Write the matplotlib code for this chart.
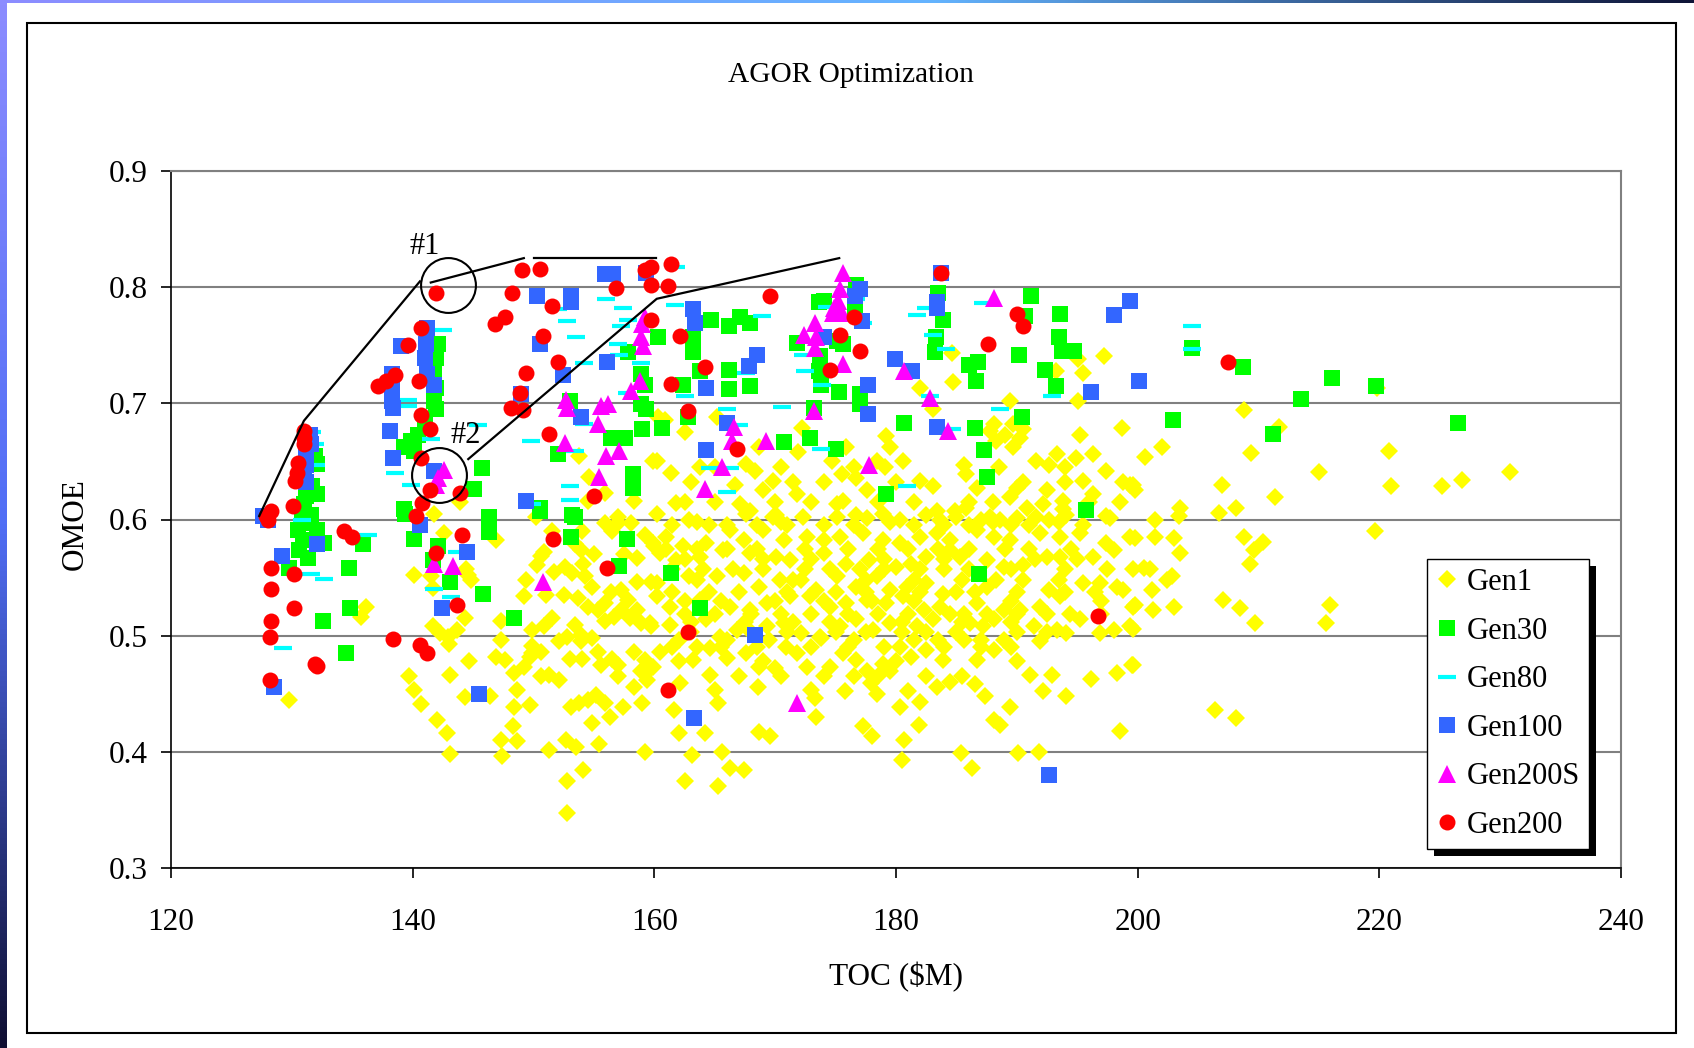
import matplotlib.pyplot as plt
from matplotlib.patches import Rectangle
from matplotlib.transforms import IdentityTransform
import numpy as np

plt.rcParams['font.family'] = ['Liberation Serif', 'DejaVu Serif']

# (TOC $M, OMOE) pairs for each generation
gen1 = [
    (129.8, 0.445), (136.1, 0.525), (135.7, 0.516), (141.8, 0.605), (142.6, 0.588), (140.1, 0.552),
    (141.5, 0.551), (141.7, 0.541), (144.6, 0.552), (144.8, 0.548), (144.4, 0.557), (146.9, 0.582),
    (141.7, 0.508), (142.3, 0.502), (142.9, 0.499), (143.0, 0.493), (143.7, 0.505), (144.3, 0.515),
    (144.7, 0.478), (143.1, 0.466), (139.7, 0.465), (140.1, 0.453), (140.7, 0.441), (142.0, 0.427),
    (142.8, 0.416), (143.1, 0.398), (144.3, 0.447), (146.4, 0.448), (147.3, 0.513), (147.3, 0.496),
    (146.9, 0.482), (147.6, 0.479), (148.4, 0.468), (148.6, 0.453), (148.4, 0.439), (148.3, 0.422),
    (147.3, 0.410), (148.6, 0.409), (147.4, 0.396), (149.4, 0.548), (149.2, 0.534), (149.9, 0.505),
    (150.9, 0.508), (149.9, 0.491), (149.7, 0.482), (149.2, 0.473), (149.7, 0.440), (150.6, 0.569),
    (150.3, 0.561), (151.7, 0.555), (152.6, 0.559), (153.2, 0.554), (154.1, 0.562), (154.3, 0.551),
    (154.8, 0.542), (153.7, 0.532), (154.5, 0.525), (155.3, 0.522), (155.9, 0.513), (156.7, 0.516),
    (157.2, 0.522), (153.4, 0.509), (153.9, 0.501), (154.8, 0.498), (155.9, 0.528), (157.8, 0.531),
    (158.6, 0.522), (152.1, 0.495), (152.8, 0.499), (153.9, 0.495), (150.6, 0.465), (151.3, 0.466),
    (152.1, 0.462), (149.9, 0.485), (150.6, 0.486), (155.3, 0.486), (155.6, 0.475), (157.0, 0.475),
    (157.0, 0.465), (158.3, 0.486), (159.2, 0.479), (158.9, 0.470), (159.4, 0.462), (158.3, 0.456),
    (153.1, 0.439), (153.8, 0.442), (154.5, 0.445), (155.2, 0.449), (155.9, 0.442), (156.3, 0.430),
    (157.4, 0.439), (159.0, 0.442), (154.8, 0.425), (155.4, 0.407), (151.3, 0.402), (152.7, 0.410),
    (153.5, 0.404), (154.1, 0.384), (152.8, 0.375), (152.8, 0.347), (159.2, 0.400), (155.9, 0.597),
    (157.0, 0.597), (158.1, 0.597), (159.2, 0.587), (160.0, 0.577), (158.6, 0.567), (159.7, 0.546),
    (158.6, 0.546), (157.2, 0.539), (156.4, 0.538), (158.9, 0.511), (159.7, 0.508), (159.7, 0.472),
    (150.2, 0.602), (150.9, 0.572), (153.4, 0.579), (153.9, 0.574),
    (151.5, 0.590), (154.0, 0.590), (156.5, 0.590), (155.0, 0.570), (157.5, 0.570), (151.0, 0.535),
    (152.5, 0.535), (151.5, 0.515), (158.0, 0.515), (153.0, 0.480), (154.0, 0.480), (156.5, 0.480),
    (160.2, 0.605), (162.9, 0.600), (166.0, 0.595), (167.6, 0.605), (169.8, 0.602), (172.3, 0.602),
    (175.1, 0.602), (177.6, 0.601), (178.9, 0.605), (180.3, 0.600), (182.5, 0.604), (183.6, 0.600),
    (185.0, 0.602), (187.0, 0.600), (188.6, 0.600), (190.0, 0.601), (191.6, 0.602), (192.7, 0.600),
    (194.1, 0.604), (197.7, 0.601),
    (163.5, 0.598), (170.5, 0.598), (179.5, 0.598), (188.0, 0.598), (193.5, 0.598),
    (161.5, 0.595), (164.5, 0.595), (168.5, 0.595), (171.0, 0.595), (174.0, 0.595), (176.5, 0.595),
    (181.5, 0.595), (184.0, 0.595), (186.0, 0.595), (189.5, 0.595), (191.0, 0.595), (195.5, 0.595),
    (159.9, 0.580), (161.0, 0.585), (162.4, 0.577), (164.3, 0.580), (166.3, 0.591), (167.4, 0.582),
    (169.0, 0.591), (170.7, 0.582), (172.6, 0.585), (174.0, 0.582), (175.4, 0.585), (177.3, 0.588),
    (178.9, 0.582), (180.3, 0.580), (182.0, 0.585), (183.4, 0.588), (184.5, 0.582), (186.7, 0.591),
    (188.1, 0.585), (189.4, 0.582), (191.9, 0.588), (193.6, 0.585), (195.2, 0.588), (197.4, 0.580),
    (199.4, 0.585),
    (161.0, 0.575), (163.5, 0.575), (166.0, 0.575), (168.5, 0.575), (172.5, 0.575), (176.0, 0.575),
    (178.5, 0.575), (181.0, 0.575), (183.5, 0.575), (186.0, 0.575), (189.0, 0.575), (191.0, 0.575),
    (194.5, 0.575),
    (160.5, 0.571), (161.8, 0.565), (163.8, 0.568), (165.7, 0.574), (167.9, 0.571), (170.1, 0.568),
    (171.2, 0.565), (174.0, 0.571), (175.9, 0.562), (177.8, 0.565), (180.0, 0.559), (181.2, 0.562),
    (182.5, 0.568), (184.5, 0.574), (185.3, 0.568), (187.5, 0.565), (188.9, 0.559), (190.5, 0.561),
    (192.5, 0.568), (193.6, 0.568), (196.3, 0.568), (198.0, 0.574), (199.6, 0.557),
    (162.5, 0.566), (169.0, 0.566), (173.0, 0.566), (179.0, 0.566), (184.0, 0.566), (191.5, 0.566),
    (195.0, 0.566),
    (161.5, 0.557), (164.0, 0.557), (166.5, 0.557), (169.0, 0.557), (172.5, 0.557), (174.5, 0.557),
    (177.0, 0.557), (179.0, 0.557), (182.0, 0.557), (184.0, 0.557), (186.0, 0.557), (189.5, 0.557),
    (194.0, 0.557), (197.5, 0.557),
    (163.5, 0.548), (171.5, 0.548), (177.5, 0.548), (181.5, 0.548), (185.5, 0.548), (190.5, 0.548),
    (193.5, 0.548),
    (160.2, 0.545), (162.9, 0.551), (165.2, 0.551), (167.4, 0.554), (168.7, 0.542), (170.4, 0.548),
    (172.1, 0.548), (173.4, 0.539), (175.1, 0.551), (176.7, 0.542), (178.4, 0.551), (179.5, 0.539),
    (180.9, 0.542), (182.5, 0.545), (183.9, 0.536), (187.5, 0.542), (188.3, 0.548), (192.7, 0.539),
    (195.5, 0.545), (196.9, 0.545), (198.8, 0.539),
    (161.5, 0.538), (164.5, 0.538), (167.0, 0.538), (171.0, 0.538), (175.0, 0.538), (177.5, 0.538),
    (182.0, 0.538), (185.0, 0.538), (186.5, 0.538), (190.0, 0.538), (194.0, 0.538), (196.5, 0.538),
    (160.2, 0.534), (161.3, 0.525), (163.8, 0.531), (166.3, 0.525), (167.9, 0.522), (169.3, 0.528),
    (171.2, 0.534), (172.9, 0.534), (174.5, 0.525), (175.9, 0.528), (177.6, 0.531), (179.2, 0.528),
    (180.6, 0.534), (182.3, 0.522), (183.6, 0.525), (185.6, 0.519), (186.7, 0.528), (188.9, 0.522),
    (190.3, 0.522), (191.9, 0.525), (193.6, 0.534), (194.4, 0.519), (195.2, 0.514), (198.3, 0.542),
    (199.6, 0.525),
    (162.5, 0.530), (165.5, 0.530), (170.0, 0.530), (174.0, 0.530), (178.0, 0.530), (181.5, 0.530),
    (189.5, 0.530), (197.0, 0.530),
    (162.5, 0.519), (165.0, 0.519), (168.0, 0.519), (170.5, 0.519), (173.0, 0.519), (176.0, 0.519),
    (178.5, 0.519), (181.0, 0.519), (184.5, 0.519), (187.5, 0.519), (190.0, 0.519), (192.5, 0.519),
    (197.0, 0.519),
    (163.0, 0.512), (167.5, 0.512), (171.5, 0.512), (174.5, 0.512), (180.5, 0.512), (185.5, 0.512),
    (189.5, 0.512),
    (159.6, 0.511), (161.3, 0.509), (164.3, 0.514), (165.4, 0.499), (166.8, 0.505), (169.3, 0.508),
    (170.7, 0.511), (172.1, 0.502), (173.7, 0.499), (175.4, 0.508), (176.7, 0.514), (178.1, 0.505),
    (179.5, 0.511), (181.7, 0.508), (183.1, 0.514), (186.1, 0.511), (187.2, 0.508), (188.1, 0.514),
    (188.9, 0.496), (191.4, 0.508), (193.3, 0.505), (194.1, 0.502), (196.9, 0.502), (198.0, 0.505),
    (199.4, 0.508),
    (163.0, 0.503), (168.0, 0.503), (171.0, 0.503), (175.0, 0.503), (177.5, 0.503), (180.5, 0.503),
    (182.5, 0.503), (185.0, 0.503), (190.0, 0.503), (192.5, 0.503),
    (162.0, 0.496), (166.0, 0.496), (169.5, 0.496), (176.5, 0.496), (181.5, 0.496), (183.5, 0.496),
    (187.0, 0.496),
    (161.5, 0.490), (163.5, 0.490), (165.5, 0.490), (168.5, 0.490), (173.0, 0.490), (176.0, 0.490),
    (179.0, 0.490), (184.0, 0.490), (187.0, 0.490), (189.5, 0.490),
    (160.5, 0.486), (163.2, 0.479), (164.6, 0.489), (166.0, 0.481), (167.6, 0.485), (168.7, 0.473),
    (170.0, 0.472), (170.9, 0.490), (171.8, 0.485), (172.6, 0.473), (173.8, 0.498), (174.5, 0.473),
    (175.6, 0.485), (176.7, 0.479), (177.6, 0.470), (178.9, 0.476), (180.3, 0.490), (181.2, 0.482),
    (182.5, 0.488), (183.9, 0.479), (185.6, 0.496), (186.7, 0.479), (188.1, 0.488), (191.9, 0.495),
    (191.1, 0.466), (192.9, 0.466), (196.1, 0.463), (198.3, 0.468), (199.5, 0.475),
    (162.0, 0.478), (169.0, 0.478), (180.0, 0.478), (190.0, 0.478),
    (167.0, 0.465), (170.5, 0.465), (174.0, 0.465), (178.5, 0.465), (182.5, 0.465), (185.5, 0.465),
    (159.9, 0.473), (162.1, 0.459), (164.6, 0.466), (165.0, 0.453), (165.3, 0.442), (168.6, 0.456),
    (173.0, 0.453), (173.3, 0.446), (173.4, 0.430), (175.8, 0.452), (176.5, 0.465), (177.9, 0.459),
    (178.4, 0.450), (179.5, 0.470), (180.3, 0.439), (181.0, 0.452), (182.0, 0.443), (183.4, 0.456),
    (184.5, 0.460), (186.5, 0.458), (187.4, 0.448), (189.4, 0.439), (192.2, 0.452), (194.1, 0.448),
    (161.6, 0.436), (162.0, 0.416), (164.2, 0.416), (168.7, 0.417), (169.6, 0.414), (177.3, 0.422),
    (178.0, 0.414), (180.7, 0.410), (181.9, 0.423), (188.1, 0.427), (188.6, 0.423), (198.5, 0.418),
    (163.1, 0.397), (165.6, 0.400), (166.3, 0.386), (167.4, 0.384), (162.5, 0.375), (165.3, 0.371),
    (180.5, 0.393), (185.4, 0.399), (186.3, 0.386), (190.1, 0.399), (191.8, 0.400),
    (162.5, 0.615), (165.0, 0.615), (170.0, 0.615), (173.0, 0.615), (178.5, 0.615), (181.5, 0.615),
    (186.0, 0.615), (188.0, 0.615), (196.0, 0.615), (198.5, 0.615), (163.0, 0.632), (171.5, 0.632),
    (174.0, 0.632), (180.0, 0.632), (190.5, 0.632), (194.0, 0.632), (165.0, 0.645), (170.5, 0.645),
    (176.5, 0.645), (188.5, 0.645), (194.0, 0.645),
    (184.6, 0.743), (184.7, 0.718), (182.0, 0.713), (183.1, 0.695), (195.1, 0.738), (195.5, 0.726),
    (197.2, 0.741), (193.2, 0.728), (195.1, 0.702), (189.4, 0.702), (188.1, 0.682), (189.0, 0.673),
    (189.7, 0.682), (190.5, 0.678), (195.2, 0.673), (198.7, 0.679), (175.9, 0.662), (171.9, 0.658),
    (172.2, 0.679), (174.7, 0.650), (175.5, 0.639), (179.2, 0.672), (179.5, 0.662), (180.6, 0.650),
    (178.4, 0.650), (179.1, 0.645), (176.7, 0.636), (177.6, 0.625), (182.0, 0.633), (183.1, 0.629),
    (185.6, 0.647), (185.8, 0.639), (186.7, 0.627), (187.8, 0.676), (188.3, 0.668), (189.7, 0.662),
    (190.3, 0.670), (191.6, 0.650), (192.7, 0.647), (193.3, 0.656), (194.9, 0.653), (196.3, 0.656),
    (197.4, 0.642), (198.8, 0.632), (199.4, 0.630), (190.0, 0.627), (189.4, 0.619), (192.5, 0.625),
    (193.8, 0.616), (195.5, 0.633), (196.3, 0.622), (160.2, 0.650), (161.4, 0.640), (161.8, 0.614),
    (162.5, 0.675), (160.9, 0.686), (165.2, 0.688), (163.8, 0.645), (166.7, 0.630), (167.6, 0.648),
    (168.3, 0.642), (167.1, 0.613), (167.9, 0.607), (169.0, 0.625), (169.8, 0.633), (171.8, 0.622),
    (175.1, 0.613), (175.6, 0.616), (168.7, 0.662), (184.9, 0.607), (185.8, 0.610), (190.8, 0.610),
    (192.2, 0.613), (187.8, 0.602), (197.4, 0.603), (170.1, 0.604), (176.7, 0.604), (183.4, 0.607),
    (193.8, 0.609),
    (208.8, 0.694), (211.7, 0.680), (202.0, 0.662), (200.6, 0.654), (209.4, 0.657), (220.8, 0.659),
    (215.0, 0.641), (230.8, 0.641), (199.6, 0.630), (199.8, 0.625), (207.0, 0.630), (211.4, 0.619),
    (221.0, 0.629), (225.2, 0.629), (226.8, 0.634), (203.5, 0.610), (203.4, 0.603), (206.7, 0.606),
    (208.1, 0.610), (201.4, 0.600), (219.8, 0.713),
    (199.8, 0.584), (201.4, 0.585), (203.0, 0.584), (203.5, 0.571), (208.8, 0.585), (209.6, 0.574),
    (210.4, 0.581), (209.3, 0.562), (219.6, 0.590), (200.5, 0.558), (201.0, 0.557), (202.4, 0.548),
    (202.8, 0.551), (201.2, 0.539), (199.8, 0.526), (201.3, 0.522), (203.0, 0.525), (207.1, 0.531),
    (208.5, 0.524), (209.7, 0.511), (215.9, 0.526), (215.6, 0.511), (199.6, 0.506), (199.6, 0.475),
    (206.4, 0.436), (208.1, 0.429),
    (153.8, 0.655), (154.5, 0.616), (155.9, 0.623), (157.0, 0.602), (158.3, 0.616), (159.9, 0.650),
    (160.3, 0.688), (143.9, 0.615), (154.6, 0.637),
]

gen30 = [
    (131.9, 0.655), (132.1, 0.648), (131.7, 0.629), (132.1, 0.622), (131.2, 0.620), (131.0, 0.613),
    (131.6, 0.604), (142.1, 0.751), (141.9, 0.739), (141.8, 0.728), (141.9, 0.713), (141.8, 0.702),
    (141.9, 0.695), (141.0, 0.682), (140.4, 0.673), (139.9, 0.668), (139.3, 0.662), (140.1, 0.659),
    (145.7, 0.644), (145.1, 0.626), (139.3, 0.609), (146.3, 0.602), (150.5, 0.610), (153.2, 0.604),
    (153.0, 0.702), (157.8, 0.744), (158.9, 0.725), (159.2, 0.716), (158.9, 0.699), (159.3, 0.695),
    (156.4, 0.670), (157.6, 0.670), (159.0, 0.678), (160.6, 0.679), (158.2, 0.639), (158.2, 0.627),
    (152.0, 0.656),
    (160.3, 0.757), (163.2, 0.757), (163.2, 0.744), (163.8, 0.728), (164.7, 0.772), (166.2, 0.767),
    (167.1, 0.774), (167.9, 0.769), (166.2, 0.729), (166.2, 0.712), (167.9, 0.715), (162.4, 0.716),
    (162.8, 0.688), (170.7, 0.667), (172.9, 0.670), (175.0, 0.661), (173.2, 0.696), (173.6, 0.787),
    (174.0, 0.788), (176.7, 0.802), (176.6, 0.781), (171.8, 0.752), (175.1, 0.754), (175.6, 0.751),
    (173.7, 0.741), (173.6, 0.728), (173.8, 0.716), (175.3, 0.710), (177.0, 0.708), (177.0, 0.699),
    (183.5, 0.795), (183.9, 0.772), (183.3, 0.757), (183.2, 0.744), (186.0, 0.733), (186.8, 0.736),
    (186.6, 0.719), (191.2, 0.792), (193.6, 0.777), (190.7, 0.775), (193.5, 0.757), (193.7, 0.745),
    (194.7, 0.745), (190.2, 0.742), (192.3, 0.729), (193.2, 0.715), (180.7, 0.683), (186.5, 0.679),
    (190.4, 0.688), (187.3, 0.660), (187.5, 0.637), (179.2, 0.622), (195.7, 0.608),
    (204.5, 0.748), (208.7, 0.731), (216.1, 0.722), (219.7, 0.715), (213.5, 0.704), (202.9, 0.686),
    (211.2, 0.674), (226.5, 0.683),
    (130.8, 0.600), (131.4, 0.597), (130.5, 0.591), (130.9, 0.582), (130.6, 0.574), (131.3, 0.567),
    (132.1, 0.591), (132.7, 0.580), (129.8, 0.558), (135.9, 0.579), (134.7, 0.558), (134.8, 0.524),
    (132.6, 0.513), (134.5, 0.485), (139.4, 0.605), (140.1, 0.583), (142.1, 0.577), (141.7, 0.565),
    (143.1, 0.546), (146.3, 0.595), (146.3, 0.589), (145.8, 0.536), (148.4, 0.515), (150.5, 0.607),
    (153.4, 0.602), (153.1, 0.585), (157.7, 0.583), (157.1, 0.560),
    (161.4, 0.554), (163.8, 0.524), (186.9, 0.553),
]

gen80 = [
    (131.7, 0.675), (131.9, 0.665), (132.0, 0.647), (130.8, 0.600), (142.5, 0.763), (139.6, 0.703),
    (139.6, 0.698), (141.5, 0.669), (138.5, 0.640), (139.9, 0.630), (145.4, 0.681), (152.8, 0.771),
    (153.5, 0.757), (152.0, 0.781), (156.0, 0.790), (157.4, 0.782), (157.8, 0.772), (157.2, 0.767),
    (157.0, 0.751), (157.1, 0.742), (154.2, 0.735), (158.9, 0.735), (157.7, 0.709), (153.4, 0.659),
    (149.8, 0.668), (153.0, 0.629), (153.0, 0.617), (149.9, 0.613), (154.2, 0.682),
    (161.8, 0.817), (161.7, 0.785), (168.9, 0.775), (174.3, 0.783), (176.7, 0.790), (177.3, 0.769),
    (181.7, 0.776), (182.5, 0.782), (183.1, 0.759), (184.1, 0.747), (187.2, 0.786), (172.3, 0.742),
    (167.6, 0.726), (172.5, 0.728), (173.9, 0.716), (162.5, 0.706), (166.0, 0.695), (170.6, 0.697),
    (167.0, 0.681), (182.8, 0.706), (184.6, 0.678), (188.6, 0.695), (192.9, 0.706), (173.8, 0.661),
    (164.6, 0.644), (166.3, 0.644), (166.0, 0.624), (180.9, 0.629),
    (204.5, 0.767), (204.5, 0.747),
    (136.3, 0.587), (131.6, 0.553), (132.7, 0.549), (129.3, 0.489), (141.8, 0.540), (143.2, 0.533),
    (143.7, 0.572),
]

gen100 = [
    (131.5, 0.673), (131.6, 0.665), (131.2, 0.656), (131.2, 0.647), (131.0, 0.639), (131.2, 0.632),
    (127.6, 0.603), (139.0, 0.749), (141.2, 0.765), (141.1, 0.751), (141.0, 0.739), (138.3, 0.725),
    (138.3, 0.713), (138.3, 0.702), (138.4, 0.696), (141.2, 0.725), (141.8, 0.716), (138.1, 0.676),
    (138.4, 0.653), (141.8, 0.642), (149.4, 0.616), (150.3, 0.792), (153.1, 0.792), (153.1, 0.787),
    (155.9, 0.811), (156.6, 0.811), (159.3, 0.812), (150.5, 0.751), (152.4, 0.724), (156.1, 0.736),
    (149.0, 0.708), (153.9, 0.688),
    (163.2, 0.781), (163.4, 0.769), (177.0, 0.798), (176.6, 0.792), (177.2, 0.771), (168.5, 0.742),
    (167.8, 0.732), (174.0, 0.757), (164.3, 0.713), (166.0, 0.683), (164.3, 0.660), (177.7, 0.716),
    (177.7, 0.691), (179.9, 0.738), (181.3, 0.728), (183.4, 0.787), (183.4, 0.782), (183.7, 0.812),
    (183.4, 0.680), (196.1, 0.710), (198.0, 0.776), (199.4, 0.788), (200.1, 0.719),
    (128.0, 0.600), (132.1, 0.579), (129.2, 0.569), (128.5, 0.456), (140.6, 0.595), (144.5, 0.572),
    (142.4, 0.524), (145.5, 0.450), (168.3, 0.501), (163.3, 0.429), (192.7, 0.380),
]

gen200s = [
    (142.6, 0.643), (142.1, 0.636), (141.9, 0.630), (152.7, 0.703), (152.8, 0.696), (155.6, 0.698),
    (156.2, 0.699), (155.3, 0.682), (152.6, 0.666), (156.0, 0.655), (157.1, 0.659), (155.4, 0.637),
    (158.8, 0.719), (158.1, 0.711), (159.0, 0.768), (158.9, 0.757), (159.1, 0.749), (159.2, 0.774),
    (175.6, 0.812), (175.4, 0.798), (175.2, 0.788), (174.9, 0.782), (174.8, 0.778), (175.5, 0.778),
    (173.3, 0.769), (172.4, 0.759), (173.4, 0.757), (173.3, 0.748), (175.6, 0.734), (180.7, 0.728),
    (182.8, 0.705), (184.3, 0.676), (173.2, 0.693), (188.1, 0.791), (166.6, 0.680), (166.4, 0.668),
    (169.2, 0.668), (165.6, 0.645), (164.2, 0.626), (177.8, 0.647),
    (141.8, 0.562), (143.3, 0.560), (150.8, 0.546), (171.8, 0.442),
]

gen200 = [
    (141.9, 0.795), (149.05, 0.815), (150.5, 0.816), (148.2, 0.795), (151.5, 0.784), (147.6, 0.774),
    (146.8, 0.768), (156.8, 0.799), (159.2, 0.815), (159.7, 0.817), (159.7, 0.802), (159.7, 0.772),
    (150.8, 0.758), (152.0, 0.736), (149.4, 0.726), (148.9, 0.709), (148.1, 0.696), (149.1, 0.694),
    (151.3, 0.674), (140.7, 0.765), (139.6, 0.750), (138.5, 0.724), (137.8, 0.719), (137.1, 0.715),
    (140.5, 0.719), (140.7, 0.690), (141.4, 0.678), (140.7, 0.653), (141.4, 0.625), (143.9, 0.623),
    (140.8, 0.614), (140.3, 0.603), (155.0, 0.620),
    (131.0, 0.676), (131.0, 0.670), (131.0, 0.665), (130.5, 0.649), (130.4, 0.640), (130.3, 0.633),
    (130.1, 0.612), (128.3, 0.607), (127.9, 0.603), (128.0, 0.600), (134.3, 0.590), (135.0, 0.585),
    (128.3, 0.558), (130.2, 0.553), (128.3, 0.540), (130.2, 0.524), (128.3, 0.513), (128.2, 0.499),
    (131.9, 0.476), (132.1, 0.474), (128.2, 0.462), (138.4, 0.497), (140.6, 0.492), (141.2, 0.485),
    (144.1, 0.587), (141.9, 0.571), (143.7, 0.526), (151.6, 0.583), (156.1, 0.558),
    (162.8, 0.503), (161.1, 0.453), (196.7, 0.517),
    (161.4, 0.820), (161.1, 0.801), (169.6, 0.792), (162.1, 0.758), (164.2, 0.731), (161.4, 0.717),
    (162.8, 0.693), (166.8, 0.661), (176.5, 0.774), (175.4, 0.759), (177.0, 0.745), (174.5, 0.729),
    (183.7, 0.812), (190.0, 0.777), (190.5, 0.767), (187.6, 0.751), (207.5, 0.736),
]

x_ticks = [120, 140, 160, 180, 200, 220, 240]
y_ticks = [0.3, 0.4, 0.5, 0.6, 0.7, 0.8, 0.9]

# hand-drawn frontier sketch and the two marked designs
frontier_lines = [
    [(127.3, 0.603), (131.0, 0.685), (140.6, 0.805)],
    [(141.5, 0.804), (149.2, 0.825)],
    [(150.0, 0.825), (160.1, 0.825)],
    [(144.6, 0.652), (160.2, 0.790), (175.3, 0.825)],
]
marked = [('#1', (142.9, 0.802), (141.0, 0.835)), ('#2', (142.2, 0.638), (144.4, 0.672))]

series = [
    ('Gen1', gen1, dict(marker='D', color='#FFFF00', ms=9.3, mew=0)),
    ('Gen30', gen30, dict(marker='s', color='#00FF00', ms=12, mew=0)),
    ('Gen80', gen80, dict(marker='_', color='#00FFFF', ms=13, mew=3)),
    ('Gen100', gen100, dict(marker='s', color='#3366FF', ms=12, mew=0)),
    ('Gen200S', gen200s, dict(marker='^', color='#FF00FF', ms=12.5, mew=0)),
    ('Gen200', gen200, dict(marker='o', color='#FF0000', ms=11.5, mew=0)),
]

W, H = 1694, 1048
fig = plt.figure(figsize=(W / 100, H / 100), dpi=100)

# slide edge gradients
left_strip = fig.add_axes([0, 0, 6 / W, 1])
lg = np.array([[140, 140, 255], [80, 110, 245], [15, 15, 50]]) / 255
t = np.linspace(0, 1, 200)
col = np.stack([np.interp(t, [0, 0.5, 1], lg[:, i]) for i in range(3)], axis=1)
left_strip.imshow(col[:, None, :], aspect='auto')
left_strip.axis('off')
top_strip = fig.add_axes([0, 1 - 3 / H, 1, 3 / H])
tg = np.array([[140, 140, 255], [100, 180, 255], [15, 20, 55]]) / 255
row = np.stack([np.interp(t, [0, 0.55, 1], tg[:, i]) for i in range(3)], axis=1)
top_strip.imshow(row[None, :, :], aspect='auto')
top_strip.axis('off')

fig.add_artist(Rectangle((26.7 / W, 1 - 1033 / H), (1675.7 - 26.7) / W, (1033 - 22.7) / H,
                         transform=fig.transFigure, fill=False, edgecolor='black', lw=1.5))

ax = fig.add_axes([171 / W, 1 - 868 / H, 1450 / W, 697 / H])

for name, pts, st in series:
    xs, ys = zip(*pts)
    ax.plot(xs, ys, linestyle='none', label=name, marker=st['marker'], ms=st['ms'],
            mfc=st['color'], mec=st['color'], mew=st['mew'])

for seg in frontier_lines:
    xs, ys = zip(*seg)
    ax.plot(xs, ys, color='black', lw=1.6, zorder=6)
for label, (cx, cy), (tx, ty) in marked:
    ax.plot([cx], [cy], marker='o', ms=39.5, mfc='none', mec='black', mew=1.5, ls='none', zorder=6)
    ax.text(tx, ty, label, fontsize=22, ha='center', va='center', zorder=6)

ax.set_xlim(120, 240)
ax.set_ylim(0.3, 0.9)
ax.set_xticks(x_ticks)
ax.set_xticklabels([str(v) for v in x_ticks])
ax.set_yticks(y_ticks)
ax.set_yticklabels([f'{v:.1f}' for v in y_ticks])
ax.set_axisbelow(True)
ax.yaxis.grid(True, color='#808080', lw=1.5)
for s in ['left', 'bottom']:
    ax.spines[s].set_color('black')
    ax.spines[s].set_linewidth(1.2)
for s in ['top', 'right']:
    ax.spines[s].set_color('#808080')
    ax.spines[s].set_linewidth(1.5)
ax.tick_params(direction='out', length=7, width=1.2, labelsize=22.5)
ax.tick_params(axis='x', pad=22)
ax.tick_params(axis='y', pad=10)

fig.text(851 / W, 1 - 75 / H, 'AGOR Optimization', fontsize=21.2, ha='center', va='center')
fig.text(895.6 / W, 1 - 976.7 / H, r'TOC (\$M)', fontsize=22.5, ha='center', va='center')
fig.text(75.6 / W, 1 - 524 / H, 'OMOE', fontsize=22.5, rotation=90, ha='center', va='center')

leg = ax.legend(loc='upper left', bbox_to_anchor=(1427 / W, 1 - 559 / H),
                bbox_transform=fig.transFigure, borderaxespad=0, fancybox=False,
                framealpha=1, edgecolor='black', fontsize=22, numpoints=1,
                handlelength=0.7, handletextpad=0.3, labelspacing=0.64, borderpad=0.3)
leg.get_frame().set_linewidth(1.0)
leg.set_zorder(10)

fig.canvas.draw()
bb = leg.get_window_extent()
ax.add_artist(Rectangle((bb.x0 + 7, bb.y0 - 7), bb.width, bb.height, transform=IdentityTransform(),
                        facecolor='black', edgecolor='none', zorder=9, clip_on=False))

fig.savefig('out.png', dpi=100)
